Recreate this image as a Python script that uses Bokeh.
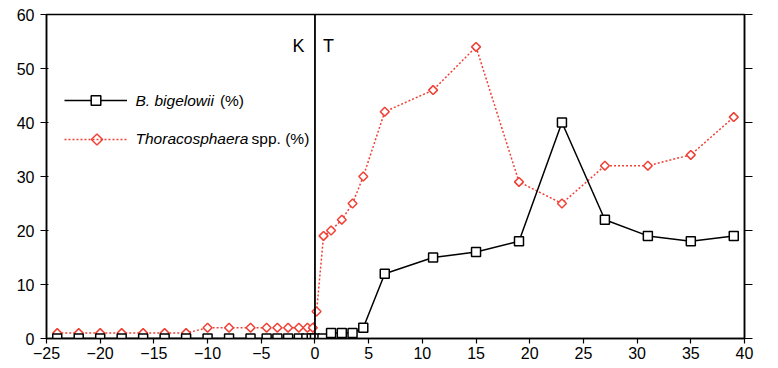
import numpy as np
from bokeh.plotting import figure
from bokeh.models import (Range1d, LinearAxis, Span, Label, Legend, LegendItem,
                          FixedTicker, ColumnDataSource, PolyAnnotation)
from bokeh.embed import file_html
from bokeh.resources import INLINE

# ---- data ----
depth_bige = [-24, -22, -20, -18, -16, -14, -12, -10, -8, -6, -4.5, -3.5, -2.5, -1.5,
              -0.8, -0.3, 0, 0.7, 1.5, 2.5, 3.5, 4.5, 6.5, 11, 15, 19, 23, 27, 31, 35, 39]
bige_pct = [0, 0, 0, 0, 0, 0, 0, 0, 0, 0, 0, 0, 0, 0,
            0, 0, 0, 0, 1, 1, 1, 2, 12, 15, 16, 18, 40, 22, 19, 18, 19]

depth_thor = [-24, -22, -20, -18, -16, -14, -12, -10, -8, -6, -4.5, -3.5, -2.5, -1.5,
              -0.7, -0.2, 0.15, 0.8, 1.5, 2.5, 3.5, 4.5, 6.5, 11, 15, 19, 23, 27, 31, 35, 39]
thor_pct = [1, 1, 1, 1, 1, 1, 1, 2, 2, 2, 2, 2, 2, 2,
            2, 2, 5, 19, 20, 22, 25, 30, 42, 46, 54, 29, 25, 32, 32, 34, 41]

x_ticks = list(range(-25, 41, 5))
y_ticks = list(range(0, 61, 10))

RED = "#ef4136"
FONT = "Liberation Sans"

p = figure(width=778, height=368, output_backend="svg", toolbar_location=None,
           x_range=Range1d(-25, 40), y_range=Range1d(0, 60),
           min_border_left=46, min_border_right=34, min_border_top=14,
           min_border_bottom=30)
p.grid.visible = False
p.outline_line_color = "black"
p.outline_line_width = 1.5
p.background_fill_color = "white"

for ax in (p.xaxis[0], p.yaxis[0]):
    ax.axis_line_color = "black"
    ax.axis_line_width = 1.5
    ax.major_tick_line_color = "black"
    ax.major_tick_line_width = 1.2
    ax.minor_tick_line_color = None
    ax.major_label_text_font = FONT
    ax.major_label_text_font_size = "16px"
    ax.major_label_text_color = "black"

p.xaxis[0].ticker = FixedTicker(ticks=x_ticks)
p.xaxis[0].major_tick_out = 5
p.xaxis[0].major_tick_in = 0
p.xaxis[0].major_label_standoff = 3
p.yaxis[0].ticker = FixedTicker(ticks=y_ticks)
p.yaxis[0].major_tick_out = 6
p.yaxis[0].major_tick_in = 2
p.yaxis[0].major_label_standoff = 6

right = LinearAxis(ticker=FixedTicker(ticks=y_ticks))
right.axis_line_color = "black"
right.axis_line_width = 1.5
right.major_tick_line_color = "black"
right.major_tick_line_width = 1.2
right.major_tick_out = 8
right.major_tick_in = 0
right.minor_tick_line_color = None
right.major_label_text_font_size = "10px"
right.major_label_text_color = None
p.add_layout(right, "right")

# K/T boundary line
p.add_layout(Span(location=0, dimension="height", line_color="black", line_width=1.8))

src_t = ColumnDataSource(dict(x=depth_thor, y=thor_pct))
src_b = ColumnDataSource(dict(x=depth_bige, y=bige_pct))

lt = p.line("x", "y", source=src_t, line_color=RED, line_width=1.5, line_dash="2 2")
st = p.scatter("x", "y", source=src_t, marker="square", angle=np.pi / 4, size=6.3,
               line_color=RED, line_width=1.5, fill_color="white")
lb = p.line("x", "y", source=src_b, line_color="black", line_width=1.5)
sb = p.scatter("x", "y", source=src_b, marker="square", size=9,
               line_color="black", line_width=1.5, fill_color="white")

# legend keys (text added separately to allow mixed italic/regular)
leg1 = Legend(items=[LegendItem(label="", renderers=[lb, sb])],
              location=(18, 226), glyph_width=63, glyph_height=24, label_height=24,
              label_width=0, label_standoff=0, padding=0, margin=0, spacing=0,
              label_text_font_size="10px", label_text_color=None,
              border_line_color=None, background_fill_alpha=0)
leg2 = Legend(items=[LegendItem(label="", renderers=[lt])],
              location=(18, 189), glyph_width=63, glyph_height=20, label_height=20,
              label_width=0, label_standoff=0, padding=0, margin=0, spacing=0,
              label_text_font_size="10px", label_text_color=None,
              border_line_color=None, background_fill_alpha=0)
p.add_layout(leg1)
p.add_layout(leg2)

# diamond key for the Thoracosphaera legend entry (legend keys do not rotate markers)
cx, cy, dx, dy = -20.30, 36.85, 0.52, 1.03
p.add_layout(PolyAnnotation(xs=[cx - dx, cx, cx + dx, cx], ys=[cy, cy + dy, cy, cy - dy],
                            fill_color="white", fill_alpha=1.0,
                            line_color=RED, line_alpha=1.0, line_width=1.5))

def lab(x, y, text, size="16px", style="normal", align="left"):
    p.add_layout(Label(x=x, y=y, text=text, text_font=FONT, text_font_size=size,
                       text_font_style=style, text_align=align,
                       text_baseline="middle", text_color="black"))

lab(-16.71, 44.1, "B. bigelowii", size="15.5px", style="italic")
lab(-8.85, 44.1, "(%)", size="15.5px")
lab(-16.71, 37.0, "Thoracosphaera", size="15.5px", style="italic")
lab(-5.9, 37.0, "spp. (%)", size="15.5px")
lab(-1.54, 54.1, "K", size="18px", align="center")
lab(1.26, 54.1, "T", size="18px", align="center")
lab(-27.1, 54.4, "%", size="16px", align="center")
lab(40.8, 2.6, "cm", size="16px")

open("out.html", "w").write(file_html(p, INLINE))
